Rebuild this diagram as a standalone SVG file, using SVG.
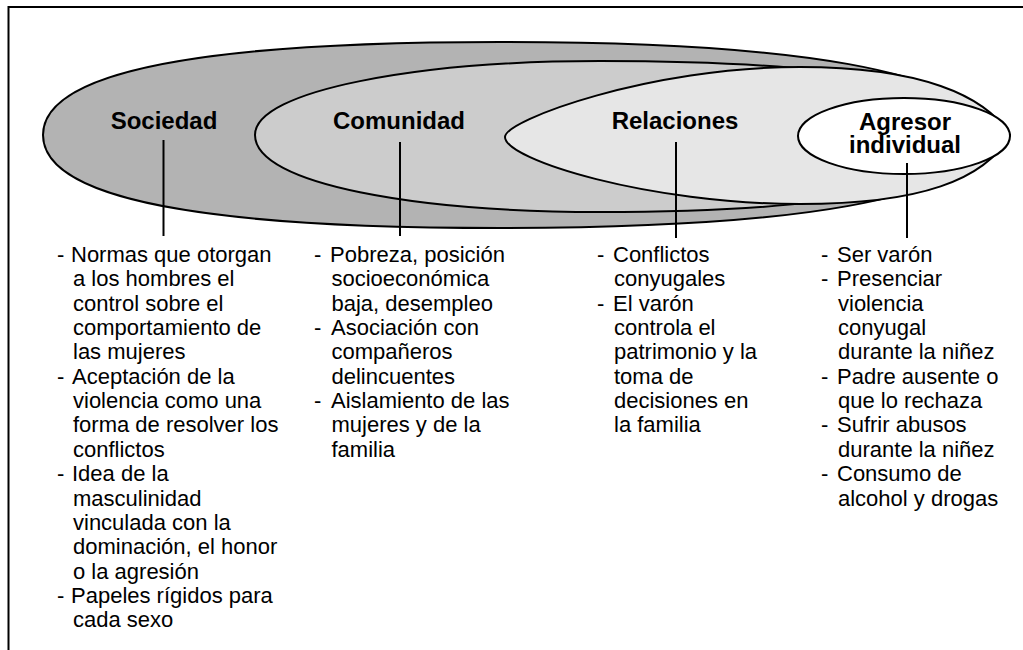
<svg xmlns="http://www.w3.org/2000/svg" width="1023" height="650" viewBox="0 0 1023 650">
<style>
.shape{stroke:#000;stroke-width:2;stroke-linejoin:round}
.lbl{font-family:"Liberation Sans",Arial,sans-serif;font-weight:bold;font-size:24px;fill:#000;text-anchor:middle}
.body{font-family:"Liberation Sans",Arial,sans-serif;font-size:22px;fill:#000}
.conn line{stroke:#000;stroke-width:2}
.frame{fill:none;stroke:#000;stroke-width:2}
</style>
<rect width="1023" height="650" fill="#fff"/>
<path class="frame" d="M8.5,650 V7 H1023"/>
<g id="node-sociedad">
<path class="shape" fill="#b3b3b3" d="M43,135 C43,62 250,42 500,42 C800,42 960,70 1010,135 C960,200 800,228 500,228 C250,228 43,208 43,135 Z"/>
<text class="lbl" x="164" y="129">Sociedad</text>
</g>
<g id="node-comunidad">
<path class="shape" fill="#cccccc" d="M255,135 C255,90 420,61 600,61 C820,61 965,80 1010,135 C965,190 820,212 600,212 C420,212 255,185 255,135 Z"/>
<text class="lbl" x="399" y="129">Comunidad</text>
</g>
<g id="node-relaciones">
<path class="shape" fill="#e6e6e6" d="M505,137 C505,120 650,67 800,67 C920,67 985,95 1010,135 C985,180 920,204 800,204 C650,204 505,160 505,137 Z"/>
<text class="lbl" x="675" y="129">Relaciones</text>
</g>
<g id="node-agresor">
<ellipse class="shape" fill="#ffffff" cx="904" cy="136" rx="106" ry="38"/>
<text class="lbl" x="905" y="129.5">Agresor</text>
<text class="lbl" x="905" y="152.5">individual</text>
</g>
<g id="connectors" class="conn">
<line x1="163.5" y1="140" x2="163.5" y2="236"/>
<line x1="400" y1="142" x2="400" y2="236"/>
<line x1="676" y1="142" x2="676" y2="238"/>
<line x1="907" y1="163" x2="907" y2="238"/>
</g>
<g id="list-sociedad" class="body">
<text x="57" y="262">-<tspan x="57" dy="121.75">-</tspan><tspan x="57" dy="97.4">-</tspan><tspan x="57" dy="121.75">-</tspan></text>
<text x="71" y="262">Normas que otorgan<tspan x="73" dy="24.35">a los hombres el</tspan><tspan x="73" dy="24.35">control sobre el</tspan><tspan x="73" dy="24.35">comportamiento de</tspan><tspan x="73" dy="24.35">las mujeres</tspan><tspan x="72" dy="24.35">Aceptación de la</tspan><tspan x="73" dy="24.35">violencia como una</tspan><tspan x="73" dy="24.35">forma de resolver los</tspan><tspan x="73" dy="24.35">conflictos</tspan><tspan x="72" dy="24.35">Idea de la</tspan><tspan x="73" dy="24.35">masculinidad</tspan><tspan x="73" dy="24.35">vinculada con la</tspan><tspan x="73" dy="24.35">dominación, el honor</tspan><tspan x="73" dy="24.35">o la agresión</tspan><tspan x="71" dy="24.35">Papeles rígidos para</tspan><tspan x="73" dy="24.35">cada sexo</tspan></text>
</g>
<g id="list-comunidad" class="body">
<text x="314" y="262">-<tspan x="314" dy="73.05">-</tspan><tspan x="314" dy="73.05">-</tspan></text>
<text x="330" y="262">Pobreza, posición<tspan x="331.5" dy="24.35">socioeconómica</tspan><tspan x="331.5" dy="24.35">baja, desempleo</tspan><tspan x="331" dy="24.35">Asociación con</tspan><tspan x="331.5" dy="24.35">compañeros</tspan><tspan x="331.5" dy="24.35">delincuentes</tspan><tspan x="331" dy="24.35">Aislamiento de las</tspan><tspan x="331.5" dy="24.35">mujeres y de la</tspan><tspan x="331.5" dy="24.35">familia</tspan></text>
</g>
<g id="list-relaciones" class="body">
<text x="597" y="262">-<tspan x="597" dy="48.7">-</tspan></text>
<text x="613" y="262">Conflictos<tspan x="614" dy="24.35">conyugales</tspan><tspan x="613" dy="24.35">El varón</tspan><tspan x="614" dy="24.35">controla el</tspan><tspan x="614" dy="24.35">patrimonio y la</tspan><tspan x="614" dy="24.35">toma de</tspan><tspan x="614" dy="24.35">decisiones en</tspan><tspan x="614" dy="24.35">la familia</tspan></text>
</g>
<g id="list-agresor" class="body">
<text x="821" y="262">-<tspan x="821" dy="24.35">-</tspan><tspan x="821" dy="97.4">-</tspan><tspan x="821" dy="48.7">-</tspan><tspan x="821" dy="48.7">-</tspan></text>
<text x="837" y="262">Ser varón<tspan x="837" dy="24.35">Presenciar</tspan><tspan x="838" dy="24.35">violencia</tspan><tspan x="838" dy="24.35">conyugal</tspan><tspan x="838" dy="24.35">durante la niñez</tspan><tspan x="837" dy="24.35">Padre ausente o</tspan><tspan x="838" dy="24.35">que lo rechaza</tspan><tspan x="837" dy="24.35">Sufrir abusos</tspan><tspan x="838" dy="24.35">durante la niñez</tspan><tspan x="837" dy="24.35">Consumo de</tspan><tspan x="838" dy="24.35">alcohol y drogas</tspan></text>
</g>
</svg>
